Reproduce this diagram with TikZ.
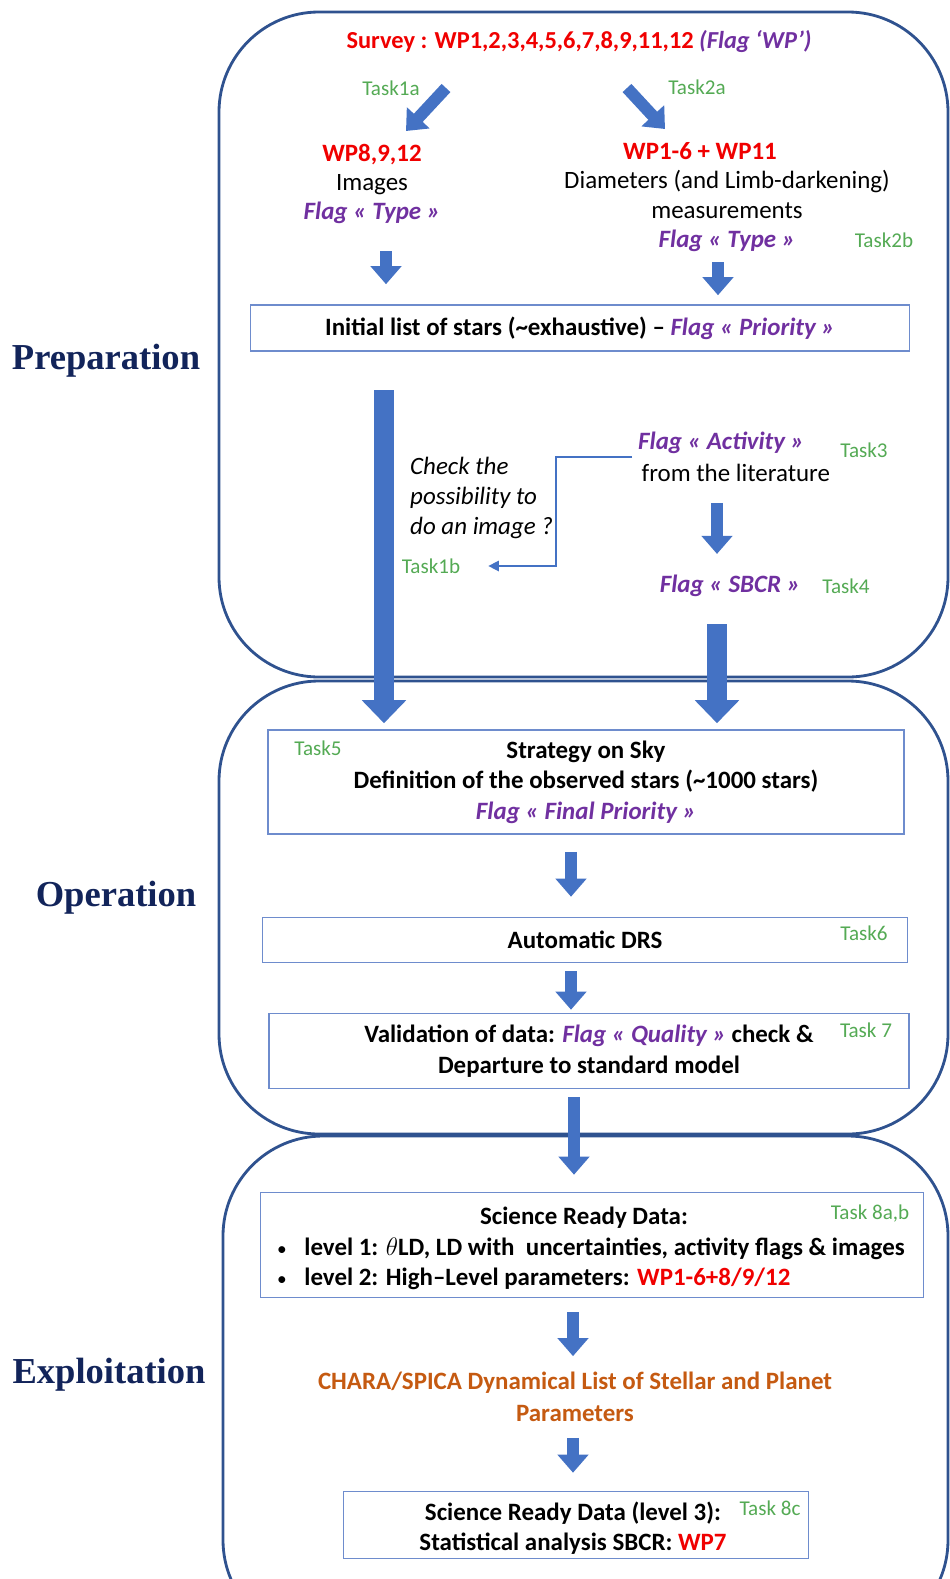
\documentclass[tikz,border=0pt]{standalone}
\usepackage{fontspec}
\setmainfont{Carlito}
\newfontfamily\secfont{Liberation Serif}
\usetikzlibrary{arrows.meta,positioning}

\definecolor{wpred}{RGB}{240,0,0}
\definecolor{flagpurple}{RGB}{112,48,160}
\definecolor{taskgreen}{RGB}{84,170,84}
\definecolor{panelblue}{RGB}{47,82,143}
\definecolor{boxblue}{RGB}{110,140,205}
\definecolor{arrowblue}{RGB}{68,114,196}
\definecolor{secnavy}{RGB}{18,36,90}
\definecolor{charaorange}{RGB}{197,90,17}

\newcommand{\flagtxt}[1]{\textcolor{flagpurple}{\bfseries\itshape Flag « #1 »}}

\tikzset{
  panel/.style={draw=panelblue, line width=1.6pt, rounded corners=2cm},
  box/.style={draw=boxblue, line width=0.9pt, inner sep=0pt, align=center},
  blk/.style={draw=arrowblue, line width=0.24cm, -{Triangle[width=0.6cm,length=0.36cm]}},
  bigblk/.style={draw=arrowblue, line width=0.4cm, -{Triangle[width=0.86cm,length=0.46cm]}},
  thinarr/.style={draw=arrowblue, line width=0.8pt, -{Triangle[width=6pt,length=6pt]}},
  task/.style={text=taskgreen, font=\fontsize{12}{14}\selectfont},
  section/.style={text=secnavy, font=\secfont\bfseries\fontsize{20.8}{24}\selectfont},
  txt/.style={align=center, font=\bfseries\fontsize{14.2}{16.7}\selectfont}
}

\begin{document}
\begin{tikzpicture}[x=0.02cm, y=-0.02cm]
    \useasboundingbox (0,0) rectangle (950,1579);
    \clip (0,0) rectangle (950,1579);
    % the three phases
    \draw[panel] (219,12) rectangle (948,677);% preparation
    \draw[panel] (219,681) rectangle (948,1134);% operation
    \draw[panel] (223,1136) rectangle (948,1640);% exploitation
    \node[section] (prep) at (106,361) {Preparation};
    \node[section] (oper) at (116,898) {Operation};
    \node[section] (expl) at (109,1375) {Exploitation};
    % preparation
    \node[txt, text=wpred, font=\bfseries\fontsize{13.9}{15}\selectfont] (survey) at (579,42)
        {Survey : WP1,2,3,4,5,6,7,8,9,11,12 \textcolor{flagpurple}{\itshape (Flag ‘WP’)}};
    \node[task] (t1a) at (391,88) {Task1a};
    \node[task] (t2a) at (697,87) {Task2a};
    \node[txt, font=\fontsize{14.2}{16.7}\selectfont] (imgs) at (372,184)
        {\textcolor{wpred}{\bfseries WP8,9,12}\\Images\\\flagtxt{Type}};
    \node[txt, text=wpred] (wpdiam) at (700,151) {WP1-6 + WP11};
    \node[txt, font=\fontsize{14.2}{16.7}\selectfont] (diam) at (727,211)
        {Diameters (and Limb-darkening)\\measurements\\\flagtxt{Type}};
    \node[task] (t2b) at (884,240) {Task2b};
    \node[box, txt, minimum width=13.18cm, minimum height=0.92cm] (initlist) at (580,328)
        {Initial list of stars (\textasciitilde exhaustive) – \flagtxt{Priority}};
    \coordinate (d1s) at (446,88);
    \coordinate (d1e) at (406,131);
    \coordinate (d2s) at (627,88);
    \coordinate (d2e) at (665,129);
    \draw[blk] (d1s) -- (d1e);% towards the images
    \draw[blk] (d2s) -- (d2e);% towards the diameters
    \coordinate (imgarr) at (386,251);
    \coordinate (diamarr) at (718,262);
    \draw[blk, shorten >=0.4cm] (imgarr) -- (imgarr |- initlist.north);
    \draw[blk, shorten >=0.18cm] (diamarr) -- (diamarr |- initlist.north);
    \node[anchor=west, align=left, font=\itshape\fontsize{14.2}{17}\selectfont] (check) at (404,498)
        {Check the\\possibility to\\do an image ?};
    \node[anchor=west, align=left, font=\fontsize{14.2}{18}\selectfont] (activity) at (632,457)
        {\flagtxt{Activity}\\\hspace{2pt}from the literature};
    \node[task] (t3) at (864,450) {Task3};
    \node[task] (t1b) at (431,566) {Task1b};
    \draw[thinarr, shorten >=0.44cm] (activity.west) -- ++(-76,0) |- (t1b.east);
    \node[txt] (sbcr) at (730,586) {\flagtxt{SBCR}};
    \node[task] (t4) at (846,586) {Task4};
    \coordinate (sb) at (717,0);
    \draw[blk, shorten <=0.3cm, shorten >=0.3cm] (activity.south -| sb) -- (sbcr.north -| sb);
    % operation
    \node[box, txt, minimum width=12.72cm, minimum height=2.08cm, font=\bfseries\fontsize{14.2}{17.3}\selectfont] (strategy) at (586,782)
        {Strategy on Sky\\Definition of the observed stars (\textasciitilde 1000 stars)\\\flagtxt{Final Priority}};
    \node[task] (t5) at (318,748) {Task5};
    \coordinate (leftarr) at (384,390);
    \coordinate (rightarr) at (717,624);
    \draw[bigblk, shorten >=0.12cm] (leftarr) -- (leftarr |- strategy.north);
    \draw[bigblk, shorten >=0.12cm] (rightarr) -- (rightarr |- strategy.north);
    \node[box, txt, minimum width=12.9cm, minimum height=0.9cm] (drs) at (585,940) {Automatic DRS};
    \node[task] (t6) at (864,933) {Task6};
    \node[box, txt, minimum width=12.8cm, minimum height=1.5cm, font=\bfseries\fontsize{14.2}{17.3}\selectfont] (valid) at (589,1051)
        {Validation of data: \flagtxt{Quality} check \&\\Departure to standard model};
    \node[task] (t7) at (866,1030) {Task 7};
    \coordinate (o1) at (571,0);
    \coordinate (o3) at (574,0);
    \draw[blk, shorten <=0.34cm, shorten >=0.4cm] (strategy.south -| o1) -- (drs.north -| o1);
    \draw[blk, shorten <=0.16cm, shorten >=0.06cm] (drs.south -| o1) -- (valid.north -| o1);
    % exploitation
    \node[box, minimum width=13.26cm, minimum height=2.1cm] (science) at (592,1245) {};
    \node[txt] (scititle) at (584,1218) {Science Ready Data:};
    \node[anchor=west, align=left, font=\bfseries\fontsize{14.2}{17.3}\selectfont] (levels) at (271,1264)
        {{\normalfont\fontsize{11}{12}\selectfont •}\hspace{10pt}level 1: $\theta$LD, LD with\ \ uncertainties, activity flags \& images\\
         {\normalfont\fontsize{11}{12}\selectfont •}\hspace{10pt}level 2: High–Level parameters: \textcolor{wpred}{WP1-6+8/9/12}};
    \node[task] (t8ab) at (870,1214) {Task 8a,b};
    \draw[blk, shorten <=0.16cm, shorten >=0.34cm] (valid.south -| o3) -- (science.north -| o3);
    \node[txt, text=charaorange, font=\bfseries\fontsize{14.2}{18}\selectfont] (chara) at (575,1397)
        {CHARA/SPICA Dynamical List of Stellar and Planet\\Parameters};
    \node[box, minimum width=9.3cm, minimum height=1.34cm] (final) at (576,1525) {};
    \node[txt, font=\bfseries\fontsize{14.2}{17.3}\selectfont] (finaltxt) at (573,1528)
        {Science Ready Data (level 3):\\Statistical analysis SBCR: \textcolor{wpred}{WP7}};
    \node[task] (t8c) at (770,1508) {Task 8c};
    \coordinate (e1) at (573,0);
    \draw[blk, shorten <=0.28cm, shorten >=0.2cm] (science.south -| e1) -- (chara.north -| e1);
    \draw[blk, shorten <=0.2cm, shorten >=0.36cm] (chara.south -| e1) -- (final.north -| e1);
\end{tikzpicture}
\end{document}
